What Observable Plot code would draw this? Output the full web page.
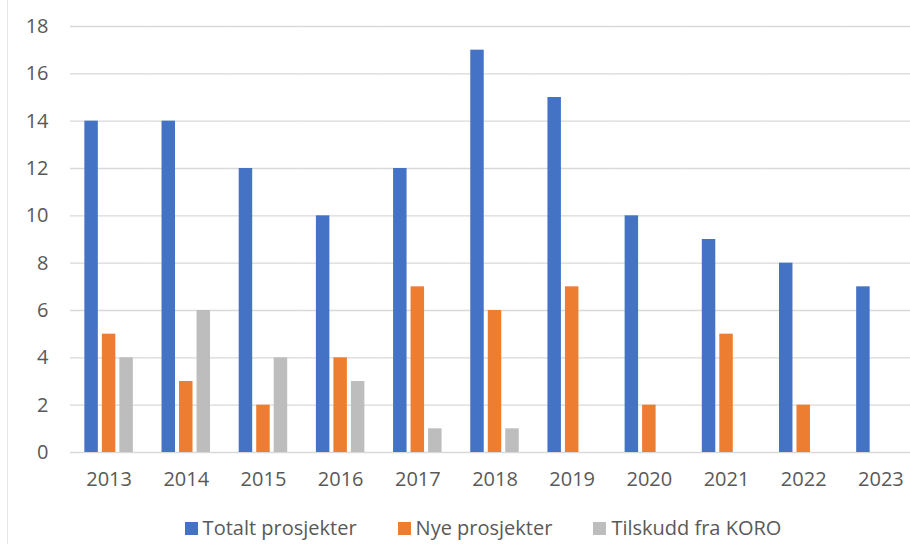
<!DOCTYPE html>
<html>
<head>
<meta charset="utf-8">
<script src="https://cdn.jsdelivr.net/npm/d3@7"></script>
<script src="https://cdn.jsdelivr.net/npm/@observablehq/plot@0.6"></script>
<style>
  html, body { margin: 0; padding: 0; background: #fff; overflow: hidden; }
  body { width: 910px; height: 544px; position: relative; font-family: "Open Sans", "Noto Sans", sans-serif; }
  #frame { position: absolute; left: 7px; top: 0; width: 1px; height: 544px; background: #e6e6e6; }
  #chart { position: absolute; left: 0; top: 0; width: 920px; }
  #chart svg { max-width: none !important; }
  #legend { position: absolute; left: 0; width: 966px; top: 515px; display: flex; justify-content: center; gap: 41px; font-size: 20px; color: #595959; white-space: nowrap; line-height: 26px; }
  #legend span.sw { display: inline-block; width: 13px; height: 13px; margin-right: 5px; vertical-align: 0px; }
</style>
</head>
<body>
<div id="frame"></div>
<div id="chart"></div>
<div id="legend"></div>
<script>
const years = ["2013","2014","2015","2016","2017","2018","2019","2020","2021","2022","2023"];
const seriesNames = ["Totalt prosjekter", "Nye prosjekter", "Tilskudd fra KORO"];
const totalt = [14, 14, 12, 10, 12, 17, 15, 10, 9, 8, 7];
const nye = [5, 3, 2, 4, 7, 6, 7, 2, 5, 2, null];
const tilskudd = [4, 6, 4, 3, 1, 1, null, null, null, null, null];
const colors = ["#4472C4", "#ED7D31", "#BDBDBD"];
const yTicks = [0, 2, 4, 6, 8, 10, 12, 14, 16, 18];

const seriesValues = [totalt, nye, tilskudd];
const data = [];
years.forEach((yr, i) => {
  seriesNames.forEach((s, k) => {
    const v = seriesValues[k][i];
    if (v != null) data.push({year: yr, series: s, value: v});
  });
});

const chart = Plot.plot({
  width: 919,
  height: 500,
  marginLeft: 70,
  marginRight: 0,
  marginTop: 26,
  marginBottom: 48,
  style: {fontFamily: "'Open Sans', 'Noto Sans', sans-serif", fontSize: "20px", color: "#595959", background: "transparent", maxWidth: "none"},
  fx: {domain: years, padding: 0, round: false, label: null, axis: "bottom", tickSize: 0, tickPadding: 19},
  x: {domain: seriesNames, axis: null, round: false, paddingInner: 0.23, paddingOuter: 0.82},
  y: {domain: [0, 18], ticks: yTicks, label: null, tickSize: 0, tickPadding: 22},
  color: {domain: seriesNames, range: colors},
  marks: [
    Plot.ruleY(yTicks, {stroke: "#d9d9d9", strokeWidth: 1.3}),
    Plot.barY(data, {fx: "year", x: "series", y: "value", fill: "series"})
  ]
});
document.getElementById("chart").appendChild(chart);

const legend = document.getElementById("legend");
seriesNames.forEach((s, k) => {
  const item = document.createElement("span");
  item.className = "item";
  const sw = document.createElement("span");
  sw.className = "sw";
  sw.style.background = colors[k];
  item.appendChild(sw);
  item.appendChild(document.createTextNode(s));
  legend.appendChild(item);
});
</script>
</body>
</html>
